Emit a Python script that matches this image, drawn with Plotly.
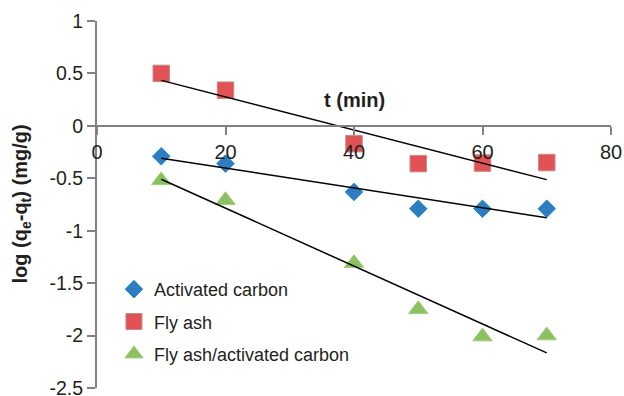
import numpy as np
import plotly.graph_objects as go

t_min = [10, 20, 40, 50, 60, 70]
activated_carbon = [-0.29, -0.36, -0.63, -0.79, -0.79, -0.79]
fly_ash = [0.50, 0.34, -0.17, -0.36, -0.355, -0.35]
fly_ash_ac = [-0.52, -0.71, -1.31, -1.75, -2.01, -2.00]

x_ticks = [0, 20, 40, 60, 80]
y_ticks = [1, 0.5, 0, -0.5, -1, -1.5, -2, -2.5]
y_tick_labels = ["1", "0.5", "0", "-0.5", "-1", "-1.5", "-2", "-2.5"]

series = [
    ("Activated carbon", activated_carbon, "diamond", "#2f7dc0", "#1b8fd3", 13.5),
    ("Fly ash", fly_ash, "square", "#e05254", "#c9888a", 16.5),
    ("Fly ash/activated carbon", fly_ash_ac, "triangle-up", "#8cc063", "#9fd077", 17),
]

fig = go.Figure()
for i, (name, ys, sym, col, edge, sz) in enumerate(series):
    fig.add_trace(go.Scatter(
        x=t_min, y=ys, mode="markers", name=name, legendgroup=f"g{i}",
        marker=dict(symbol=sym, size=sz, color=col, line=dict(color=edge, width=1)),
    ))
for name, ys, sym, col, edge, sz in series:
    m, b = np.polyfit(t_min, ys, 1)
    xs = [t_min[0], t_min[-1]]
    fig.add_trace(go.Scatter(
        x=xs, y=[m * v + b for v in xs], mode="lines", showlegend=False,
        line=dict(color="black", width=1.5), hoverinfo="skip",
    ))

axis_col = "#7f8184"
txt_col = "#231f20"
y_min, y_max = -2.5, 1

fig.update_layout(
    width=624, height=396,
    margin=dict(l=97, r=13, t=21, b=8),
    paper_bgcolor="white", plot_bgcolor="white",
    font=dict(family="Liberation Sans, Arial, sans-serif", color=txt_col),
    xaxis=dict(
        range=[0, 80], tickvals=x_ticks, ticktext=[str(v) for v in x_ticks],
        showgrid=False, zeroline=False, showline=True, linecolor=axis_col, linewidth=2,
        ticks="outside", ticklen=8, tickwidth=2, tickcolor=axis_col,
        tickfont=dict(size=20, color=txt_col), automargin=False,
        ticklabeloverflow="allow",
        anchor="free", position=(0 - y_min) / (y_max - y_min),
    ),
    yaxis=dict(
        range=[y_min, y_max], tickvals=y_ticks, ticktext=y_tick_labels,
        showgrid=False, zeroline=False, showline=True, linecolor=axis_col, linewidth=2,
        ticks="outside", ticklen=8, tickwidth=2, tickcolor=axis_col,
        tickfont=dict(size=19.5, color=txt_col), automargin=False,
        ticklabeloverflow="allow",
    ),
    legend=dict(
        x=0.033, y=0.319, xanchor="left", yanchor="top",
        font=dict(size=18, color=txt_col), bgcolor="rgba(0,0,0,0)",
        tracegroupgap=6, itemsizing="trace",
    ),
    showlegend=True,
    annotations=[
        dict(text="<b>t (min)</b>", x=40, y=0.25, xref="x", yref="y",
             showarrow=False, font=dict(size=20, color=txt_col)),
        dict(text="<b>log (q<sub>e</sub>-q<sub>t</sub>) (mg/g)</b>", x=0, y=0.5,
             xref="paper", yref="paper", xshift=-76, textangle=-90,
             xanchor="center", yanchor="middle",
             showarrow=False, font=dict(size=20, color=txt_col)),
    ],
)

fig.write_html(
    "out.html",
    config={"displayModeBar": False},
    post_script="document.body.style.margin='0px';document.body.style.overflow='hidden';",
)
